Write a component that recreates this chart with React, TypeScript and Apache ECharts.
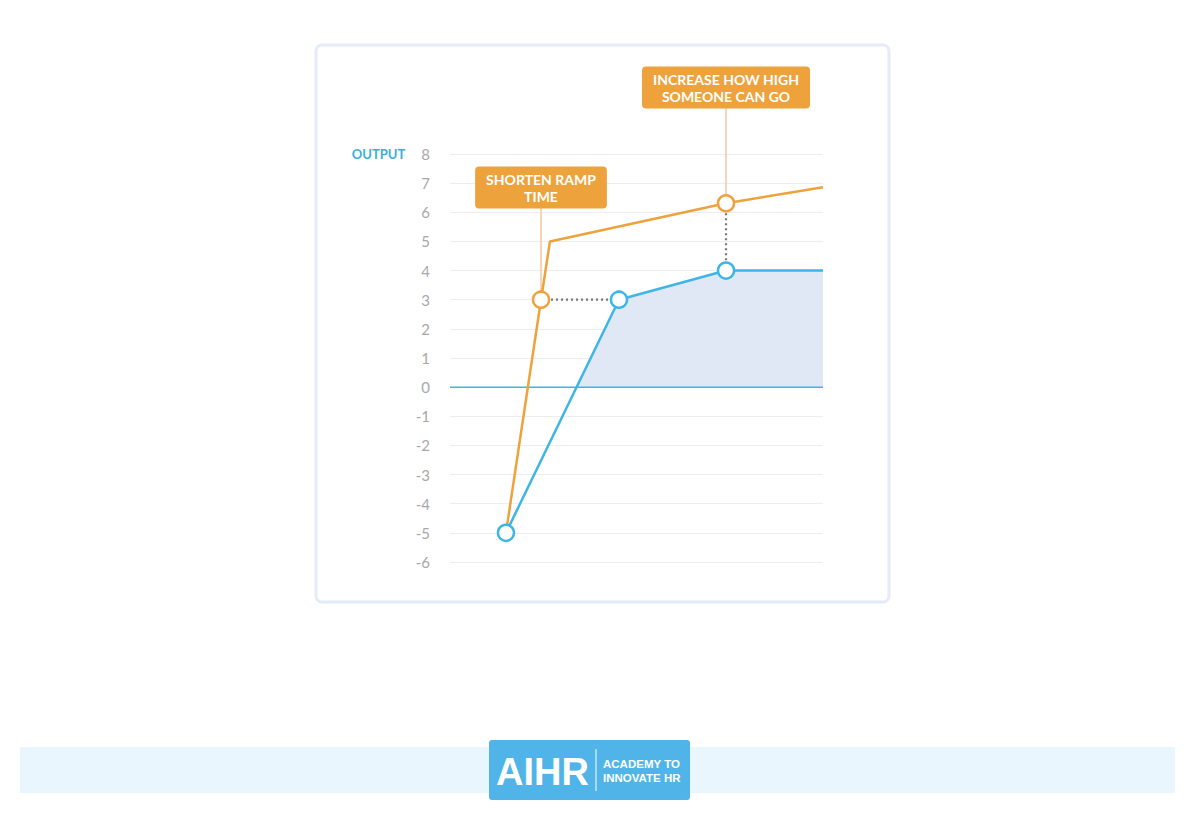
import React, { useEffect, useRef } from "react";
import * as echarts from "echarts";

const yTicks = { min: -6, max: 8, interval: 1 };
const blueLine: [number, number][] = [[15, -5], [45.3, 3], [74, 4], [100, 4]];
const blueArea: [number, number][] = [[33.9, 0], [45.3, 3], [74, 4], [100, 4]];
const orangeLine: [number, number][] = [[15, -5], [24.4, 3], [26.8, 5], [74, 6.31], [100, 6.86]];
const blueDots: [number, number][] = [[15, -5], [45.3, 3], [74, 4]];
const orangeDots: [number, number][] = [[24.4, 3], [74, 6.31]];
const dottedH: [number, number][] = [[24.4, 3], [45.3, 3]];
const dottedV: [number, number][] = [[74, 6.31], [74, 4]];
const zeroLine: [number, number][] = [[0, 0], [100, 0]];
const callouts = [
  { text: "SHORTEN RAMP\nTIME", anchor: [24.4, 3], box: [24.4, 6.85] },
  { text: "INCREASE HOW HIGH\nSOMEONE CAN GO", anchor: [74, 6.31], box: [74, 10.28] },
];
const yAxisTitle = "OUTPUT";

const ORANGE = "#eea23c";
const BLUE = "#3db5e6";

export default function App() {
  const ref = useRef<HTMLDivElement>(null);
  useEffect(() => {
    const chart = echarts.init(ref.current!, null, { renderer: "svg" });
    const series: any[] = [
      {
        type: "line",
        data: zeroLine,
        symbol: "none",
        lineStyle: { color: BLUE, width: 1.5 },
        z: 1,
        silent: true,
      },
      {
        type: "line",
        data: blueArea,
        symbol: "none",
        lineStyle: { width: 0 },
        areaStyle: { color: "#dfe8f4", origin: 0, opacity: 1 },
        z: 1,
        silent: true,
      },
      ...callouts.map((c) => ({
        type: "line",
        data: [c.anchor, c.box],
        symbol: "none",
        lineStyle: { color: "#f3c9a3", width: 1.5 },
        z: 2,
        clip: false,
        silent: true,
      })),
      {
        type: "line",
        data: dottedH,
        symbol: "none",
        lineStyle: { color: "#777", width: 2.2, type: [2, 3] },
        z: 2,
        silent: true,
      },
      {
        type: "line",
        data: dottedV,
        symbol: "none",
        lineStyle: { color: "#777", width: 2.2, type: [2, 3] },
        z: 2,
        silent: true,
      },
      {
        type: "line",
        data: orangeLine,
        symbol: "none",
        lineStyle: { color: ORANGE, width: 2.5 },
        z: 3,
        silent: true,
      },
      {
        type: "line",
        data: blueLine,
        symbol: "none",
        lineStyle: { color: BLUE, width: 2.5 },
        z: 3,
        silent: true,
      },
      {
        type: "scatter",
        data: orangeDots,
        symbol: "circle",
        symbolSize: 16,
        itemStyle: { color: "#fff", borderColor: ORANGE, borderWidth: 2.5, opacity: 1 },
        z: 5,
        silent: true,
      },
      {
        type: "scatter",
        data: blueDots,
        symbol: "circle",
        symbolSize: 16,
        itemStyle: { color: "#fff", borderColor: BLUE, borderWidth: 2.5, opacity: 1 },
        z: 5,
        silent: true,
      },
      {
        type: "scatter",
        data: callouts.map((c) => ({ value: c.box, label: { formatter: c.text } })),
        symbolSize: 1,
        itemStyle: { color: "transparent", opacity: 1 },
        clip: false,
        z: 6,
        silent: true,
        label: {
          show: true,
          position: "inside",
          color: "#fff",
          fontFamily: "Lato",
          fontWeight: "bold",
          fontSize: 14,
          lineHeight: 17,
          align: "center",
          backgroundColor: ORANGE,
          borderRadius: 4,
          padding: [4, 11, 4, 11],
        },
      },
    ];

    chart.setOption({
      animation: false,
      grid: { left: 450, right: 377, top: 154, bottom: 265 },
      xAxis: {
        type: "value",
        min: 0,
        max: 100,
        show: false,
      },
      yAxis: {
        type: "value",
        min: yTicks.min,
        max: yTicks.max,
        interval: yTicks.interval,
        axisLine: { show: false },
        axisTick: { show: false },
        splitLine: { lineStyle: { color: "#ededed", width: 1.2 } },
        axisLabel: {
          margin: 20,
          color: "#a8a8a8",
          fontFamily: "Lato",
          fontSize: 15,
          formatter: (v: number) =>
            v === yTicks.max ? `{o|${yAxisTitle}}{v|${v}}` : `{v|${v}}`,
          rich: {
            o: {
              color: "#3aaee2",
              fontFamily: "Lato",
              fontWeight: "bold",
              fontSize: 13,
              padding: [0, 16, 0, 0],
            },
            v: { color: "#a8a8a8", fontFamily: "Lato", fontSize: 15 },
          },
        },
      },
      graphic: [
        {
          type: "rect",
          z: -10,
          shape: { x: 316, y: 45, width: 573, height: 557, r: 6 },
          style: { fill: "#fff", stroke: "#e3ecf8", lineWidth: 3 },
          silent: true,
        },
        {
          type: "rect",
          shape: { x: 20, y: 747, width: 1155, height: 46 },
          style: { fill: "#eaf6fd" },
          silent: true,
        },
        {
          type: "rect",
          shape: { x: 489, y: 740, width: 201, height: 60, r: 3 },
          style: { fill: "#50b4e8" },
          silent: true,
        },
        {
          type: "text",
          x: 496,
          y: 772,
          style: {
            text: "AIHR",
            fill: "#fff",
            font: "bold 38px 'Liberation Sans', Arial, sans-serif",
            verticalAlign: "middle",
          },
          silent: true,
        },
        {
          type: "line",
          shape: { x1: 596, y1: 749, x2: 596, y2: 791 },
          style: { stroke: "#fff", lineWidth: 1 },
          silent: true,
        },
        {
          type: "text",
          x: 603,
          y: 771,
          style: {
            text: "ACADEMY TO\nINNOVATE HR",
            fill: "#fff",
            font: "bold 11.5px 'Liberation Sans', Arial, sans-serif",
            lineHeight: 14,
            verticalAlign: "middle",
          },
          silent: true,
        },
      ],
      series,
    });
    return () => chart.dispose();
  }, []);
  return (
    <div
      ref={ref}
      style={{ position: "absolute", left: 0, top: 0, width: 1200, height: 827, background: "#fff" }}
    />
  );
}
